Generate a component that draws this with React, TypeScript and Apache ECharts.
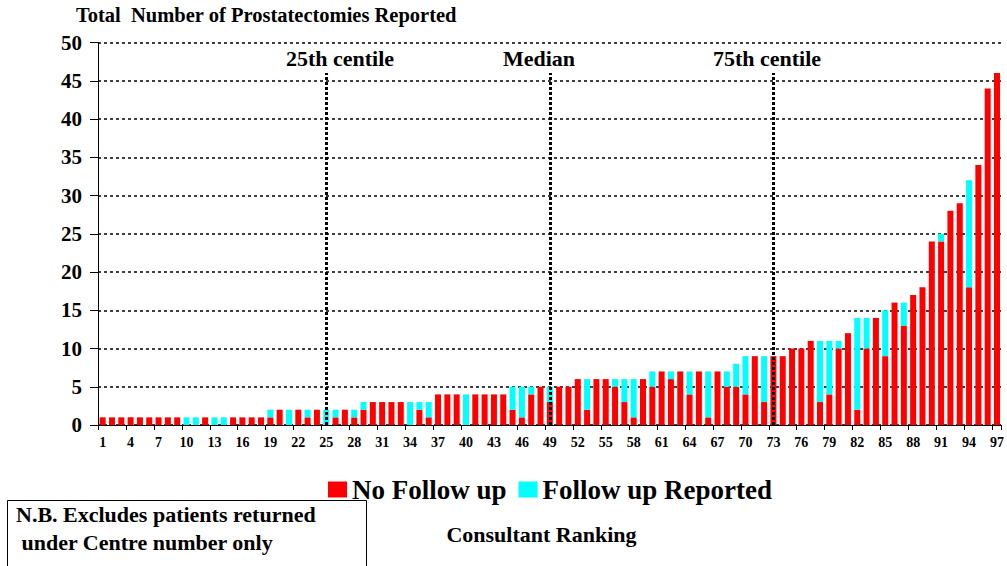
import React, { useEffect, useRef } from "react";
import * as echarts from "echarts";

const categories = [
  "1","2","3","4","5","6","7","8","9","10","11","12","13","14","15","16","17","18","19","20",
  "21","22","23","24","25","26","27","28","29","30","31","32","33","34","35","36","37","38","39","40",
  "41","42","43","44","45","46","47","48","49","50","51","52","53","54","55","56","57","58","59","60",
  "61","62","63","64","65","66","67","68","69","70","71","72","73","74","75","76","77","78","79","80",
  "81","82","83","84","85","86","87","88","89","90","91","92","93","94","95","96","97",
];

const noFollowUp = [
  1, 1, 1, 1, 1, 1, 1, 1, 1, 0, 0, 1, 0, 0, 1, 1, 1, 1, 1, 2,
  0, 2, 1, 2, 0, 1, 2, 1, 2, 3, 3, 3, 3, 0, 2, 1, 4, 4, 4, 0,
  4, 4, 4, 4, 2, 1, 4, 5, 3, 5, 5, 6, 2, 6, 6, 5, 3, 1, 6, 5,
  7, 6, 7, 4, 7, 1, 7, 5, 5, 4, 9, 3, 9, 9, 10, 10, 11, 3, 4, 10,
  12, 2, 10, 14, 9, 16, 13, 17, 18, 24, 24, 28, 29, 18, 34, 44, 46,
];

const followUpReported = [
  0, 0, 0, 0, 0, 0, 0, 0, 0, 1, 1, 0, 1, 1, 0, 0, 0, 0, 1, 0,
  2, 0, 1, 0, 2, 1, 0, 1, 1, 0, 0, 0, 0, 3, 1, 2, 0, 0, 0, 4,
  0, 0, 0, 0, 3, 4, 1, 0, 2, 0, 0, 0, 4, 0, 0, 1, 3, 5, 0, 2,
  0, 1, 0, 3, 0, 6, 0, 2, 3, 5, 0, 6, 0, 0, 0, 0, 0, 8, 7, 1,
  0, 12, 4, 0, 6, 0, 3, 0, 0, 0, 1, 0, 0, 14, 0, 0, 0,
];

const centileRanks = ["25", "49", "73"];
const centileLabels = ["25th centile", "Median", "75th centile"];
const centileLineTop = 46;

const FONT = "'Liberation Serif', 'Times New Roman', serif";

export default function App() {
  const ref = useRef<HTMLDivElement>(null);
  useEffect(() => {
    if (!ref.current) return;
    const chart = echarts.init(ref.current, undefined, { renderer: "svg" });
    const labelX = [340, 539, 767];
    chart.setOption({
      animation: false,
      backgroundColor: "#ffffff",
      textStyle: { fontFamily: FONT, fontWeight: "bold", color: "#000" },
      grid: { left: 98, right: 4, top: 42.5, bottom: 141, containLabel: false },
      legend: {
        left: 328,
        top: 476,
        padding: 0,
        icon: "rect",
        itemWidth: 19,
        itemHeight: 16,
        itemGap: 12,
        textStyle: { fontFamily: FONT, fontWeight: "bold", fontSize: 27, color: "#000", lineHeight: 27 },
        data: ["No Follow up", "Follow up Reported"],
      },
      xAxis: {
        type: "category",
        data: categories,
        axisLine: { lineStyle: { color: "#000", width: 1 } },
        axisTick: { show: true, length: 5, lineStyle: { color: "#000" } },
        axisLabel: {
          interval: 2,
          fontFamily: FONT,
          fontWeight: "bold",
          fontSize: 14,
          color: "#000",
          margin: 10,
        },
        splitLine: { show: false },
      },
      yAxis: {
        type: "value",
        min: 0,
        max: 50,
        interval: 5,
        axisLine: { show: true, lineStyle: { color: "#000", width: 1 } },
        axisTick: { show: true, length: 8, lineStyle: { color: "#000" } },
        axisLabel: {
          fontFamily: FONT,
          fontWeight: "bold",
          fontSize: 21,
          color: "#000",
          margin: 16,
        },
        splitLine: { show: true, lineStyle: { color: "#000", type: [3, 3], width: 1.5 } },
      },
      series: [
        {
          name: "No Follow up",
          type: "bar",
          stack: "total",
          barWidth: 6,
          itemStyle: { color: "#ff0000" },
          data: noFollowUp,
        },
        {
          name: "Follow up Reported",
          type: "bar",
          stack: "total",
          barWidth: 6,
          itemStyle: { color: "#00ffff" },
          data: followUpReported,
          markLine: {
            silent: true,
            symbol: "none",
            label: { show: false },
            lineStyle: { color: "#000", type: [3, 2], width: 3 },
            data: centileRanks.map((c) => [
              { coord: [c, 0] },
              { coord: [c, centileLineTop] },
            ]),
          },
        },
      ],
      graphic: [
        {
          type: "text",
          left: 76,
          top: 4,
          style: {
            text: "Total  Number of Prostatectomies Reported",
            fontFamily: FONT,
            fontWeight: "bold",
            fontSize: 20.5,
            fill: "#000",
          },
        },
        ...centileLabels.map((t, i) => ({
          type: "text",
          x: labelX[i],
          y: 58,
          style: {
            text: t,
            fontFamily: FONT,
            fontWeight: "bold",
            fontSize: 22,
            fill: "#000",
            align: "center",
            verticalAlign: "middle",
          },
        })),
        {
          type: "text",
          x: 541.5,
          y: 534,
          style: {
            text: "Consultant Ranking",
            fontFamily: FONT,
            fontWeight: "bold",
            fontSize: 22,
            fill: "#000",
            align: "center",
            verticalAlign: "middle",
          },
        },
        {
          type: "rect",
          shape: { x: 7.5, y: 500.5, width: 359, height: 90 },
          style: { fill: "#fff", stroke: "#000", lineWidth: 1 },
        },
        {
          type: "text",
          x: 16,
          y: 514.5,
          style: {
            text: "N.B. Excludes patients returned",
            fontFamily: FONT,
            fontWeight: "bold",
            fontSize: 22,
            fill: "#000",
            verticalAlign: "middle",
          },
        },
        {
          type: "text",
          x: 16,
          y: 542.5,
          style: {
            text: " under Centre number only",
            fontFamily: FONT,
            fontWeight: "bold",
            fontSize: 22,
            fill: "#000",
            verticalAlign: "middle",
          },
        },
      ],
    });
    return () => chart.dispose();
  }, []);
  return (
    <div
      ref={ref}
      style={{ position: "absolute", left: 0, top: 0, width: 1007, height: 566 }}
    />
  );
}
